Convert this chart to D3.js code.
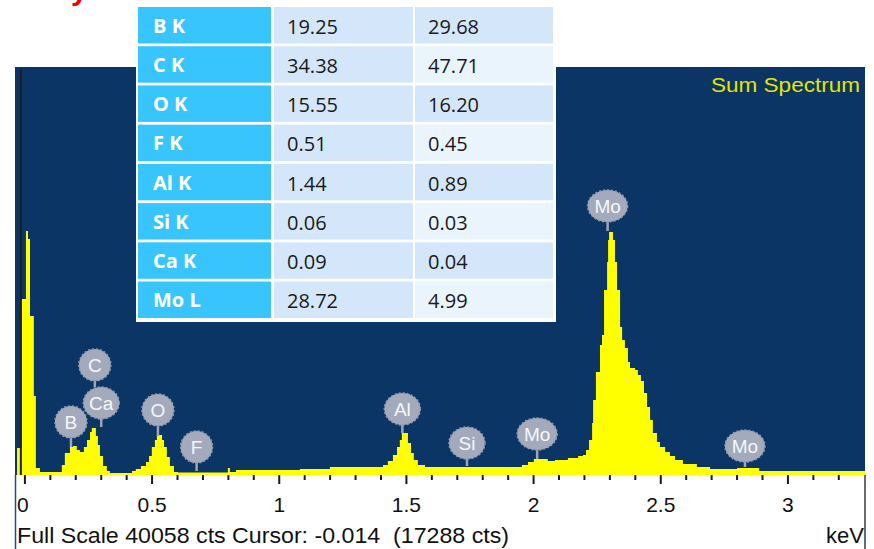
<!DOCTYPE html>
<html>
<head>
<meta charset="utf-8">
<script src="https://cdn.jsdelivr.net/npm/d3@7"></script>
<style>
  html, body { margin: 0; padding: 0; background: #ffffff; }
  svg { display: block; }
</style>
</head>
<body>
<script>
// ---- Quantification table ----
const elements = ["B K", "C K", "O K", "F K", "Al K", "Si K", "Ca K", "Mo L"];
const weightPct = ["19.25", "34.38", "15.55", "0.51", "1.44", "0.06", "0.09", "28.72"];
const atomicPct = ["29.68", "47.71", "16.20", "0.45", "0.89", "0.03", "0.04", "4.99"];

// ---- Spectrum (step counts per energy bin) ----
const energyKeV = [-0.037, -0.029, -0.012, 0.006, 0.014, 0.022, 0.037, 0.045, 0.061,
  0.147, 0.159, 0.179, 0.191, 0.206, 0.218, 0.234, 0.246, 0.258, 0.265, 0.281, 0.289,
  0.297, 0.309, 0.324, 0.336, 0.423, 0.438, 0.458, 0.478, 0.490, 0.501, 0.513, 0.521,
  0.541, 0.549, 0.560, 0.572, 0.588, 0.604, 0.800, 0.808, 0.832, 1.083, 1.201, 1.410,
  1.429, 1.449, 1.465, 1.476, 1.484, 1.508, 1.520, 1.531, 1.547, 1.575, 1.956, 1.980,
  2.003, 2.058, 2.086, 2.137, 2.177, 2.196, 2.208, 2.220, 2.232, 2.236, 2.247, 2.263,
  2.271, 2.279, 2.291, 2.295, 2.299, 2.314, 2.322, 2.330, 2.342, 2.350, 2.361, 2.373,
  2.381, 2.401, 2.412, 2.424, 2.436, 2.448, 2.460, 2.471, 2.487, 2.499, 2.519, 2.538,
  2.558, 2.589, 2.644, 2.696, 2.802, 2.889, 3.305];
const counts = [0, 2651, 17288, 23961, 23175, 15614, 7758, 687, 295,
  982, 2160, 2750, 2848, 2455, 2259, 2750, 3437, 4223, 4615, 3830, 2946,
  1866, 884, 393, 196, 393, 589, 884, 1277, 1866, 2750, 3437, 3928,
  3437, 2750, 1768, 884, 295, 246, 687, 295, 491, 589, 786, 982,
  1375, 1964, 2750, 3437, 4124, 3142, 2160, 1473, 982, 786, 982, 1277,
  1571, 1375, 1473, 1669, 1866, 1964, 2455, 3437, 5106, 7365, 10115, 12766,
  13748, 18167, 20917, 23077, 23863, 23077, 20917, 18167, 14534, 13257, 12471, 11097,
  10507, 10311, 9820, 9231, 8052, 6678, 5401, 4124, 3241, 2750, 2259, 1866,
  1473, 1080, 786, 589, 687, 393, 393];

// ---- Peak markers ----
const peakLabels = ["B", "C", "Ca", "O", "F", "Al", "Si", "Mo", "Mo", "Mo"];
const peakEnergy = [0.183, 0.277, 0.302, 0.525, 0.677, 1.486, 1.740, 2.016, 2.293, 2.833];
const markerCounts = [5205, 10802, 7070, 6383, 2750, 6481, 3142, 4026, 26416, 2848];
const stemEndCounts = [2750, 8642, 4714, 3830, 393, 4124, 884, 1571, 23961, 786];

// ---- Axis ----
const majorTicks = [0, 0.5, 1, 1.5, 2, 2.5, 3];
const fullScale = 40058;
const cursorKeV = -0.014;
const cursorCounts = 17288;

const W = 874, H = 549;
const panel = { left: 15, right: 865, top: 67, bottom: 475 };

const svg = d3.select("body").append("svg").attr("width", W).attr("height", H);

const x = d3.scaleLinear().domain([-0.037, 3.305]).range([panel.left, panel.right]);
const y = d3.scaleLinear().domain([0, fullScale]).range([panel.bottom, panel.top]);

// heading descender peeking in at the top edge
svg.append("text")
  .attr("x", 71).attr("y", 0)
  .attr("font-family", "Liberation Sans, Arial, sans-serif")
  .attr("font-size", 30).attr("font-weight", "bold")
  .attr("fill", "#ff0000")
  .text("y");

// frame lines down the sides of the axis area
svg.append("line").attr("x1", panel.left + 0.5).attr("x2", panel.left + 0.5)
  .attr("y1", panel.bottom).attr("y2", H).attr("stroke", "#1f4f86").attr("stroke-width", 1.5);
svg.append("line").attr("x1", panel.right).attr("x2", panel.right)
  .attr("y1", panel.bottom).attr("y2", H).attr("stroke", "#333a48").attr("stroke-width", 1.5);

// spectrum panel
svg.append("rect")
  .attr("x", panel.left).attr("y", panel.top)
  .attr("width", panel.right - panel.left).attr("height", panel.bottom - panel.top)
  .attr("fill", "#0b3564");

const spectrum = energyKeV.map((e, i) => ({ e, c: counts[i] }));
const area = d3.area()
  .x(d => x(d.e))
  .y0(y(0))
  .y1(d => y(d.c))
  .curve(d3.curveStepAfter);

svg.append("path")
  .datum(spectrum)
  .attr("d", area)
  .attr("fill", "#ffff00");

// cursor
svg.append("line")
  .attr("x1", x(cursorKeV)).attr("x2", x(cursorKeV))
  .attr("y1", panel.top + 2).attr("y2", panel.bottom)
  .attr("stroke", "#1d1d22").attr("stroke-width", 2);

// "Sum Spectrum" caption
svg.append("text")
  .attr("x", 860).attr("y", 92)
  .attr("text-anchor", "end")
  .attr("font-family", "Liberation Sans, Arial, sans-serif")
  .attr("font-size", 20)
  .attr("textLength", 149).attr("lengthAdjust", "spacingAndGlyphs")
  .attr("fill", "#e2e600")
  .text("Sum Spectrum");

// peak markers
const markers = svg.append("g").attr("class", "markers");
peakLabels.forEach((lab, i) => {
  const cx = x(peakEnergy[i]);
  const cy = y(markerCounts[i]);
  const ry = 16;
  const rx = lab.length > 1 ? (lab === "Mo" ? 20 : 18) : 16;
  const g = markers.append("g");
  g.append("line")
    .attr("x1", cx).attr("x2", cx)
    .attr("y1", cy + ry - 1).attr("y2", y(stemEndCounts[i]))
    .attr("stroke", "#9ea6b8").attr("stroke-width", 2.5);
  g.append("ellipse")
    .attr("cx", cx).attr("cy", cy).attr("rx", rx).attr("ry", ry)
    .attr("fill", "#a2aabb")
    .attr("stroke", "#8f98ad").attr("stroke-width", 1.5)
    .attr("stroke-dasharray", "2,2");
  g.append("text")
    .attr("x", cx).attr("y", cy + 7)
    .attr("text-anchor", "middle")
    .attr("font-family", "Liberation Sans, Arial, sans-serif")
    .attr("font-size", 19)
    .attr("fill", "#f6f7fb")
    .text(lab);
});

// energy axis: minor ticks every 0.1 keV, labelled major ticks every 0.5 keV
const minorTicks = d3.range(0, 33).map(i => i / 10).filter(v => Math.abs(v * 2 - Math.round(v * 2)) > 1e-6);
const axisMinor = d3.axisBottom(x).tickValues(minorTicks).tickSize(5).tickFormat("");
const axisMajor = d3.axisBottom(x).tickValues(majorTicks).tickSize(9).tickPadding(13)
  .tickFormat(d3.format("~g"));

const gMinor = svg.append("g").attr("transform", `translate(0,${panel.bottom})`).call(axisMinor);
const gMajor = svg.append("g").attr("transform", `translate(0,${panel.bottom})`).call(axisMajor);
[gMinor, gMajor].forEach(g => {
  g.select(".domain").remove();
  g.selectAll(".tick line").attr("stroke", "#1a1a1a").attr("stroke-width", 2);
});
gMajor.selectAll(".tick text")
  .attr("font-family", "Liberation Sans, Arial, sans-serif")
  .attr("font-size", 21)
  .attr("fill", "#111111");
gMajor.selectAll(".tick text").filter(d => d === 0).attr("dx", -2);

// status line
svg.append("text")
  .attr("x", 17).attr("y", 543)
  .attr("font-family", "Liberation Sans, Arial, sans-serif")
  .attr("font-size", 22)
  .attr("textLength", 492).attr("lengthAdjust", "spacingAndGlyphs")
  .attr("fill", "#111111")
  .attr("xml:space", "preserve")
  .style("white-space", "pre")
  .text(`Full Scale ${fullScale} cts Cursor: ${cursorKeV.toFixed(3)}  (${cursorCounts} cts)`);

svg.append("text")
  .attr("x", 864).attr("y", 543)
  .attr("text-anchor", "end")
  .attr("font-family", "Liberation Sans, Arial, sans-serif")
  .attr("font-size", 22)
  .attr("fill", "#111111")
  .text("keV");

// quantification table laid over the top of the panel
const rowBand = d3.scaleBand().domain(elements).range([7, 318]).paddingInner(0.07);
const colX = [138, 274, 415];
const colW = [133, 139, 138];

const table = svg.append("g").attr("class", "table");
table.append("rect")
  .attr("x", 136).attr("y", 0).attr("width", 420).attr("height", 322)
  .attr("fill", "#ffffff");

elements.forEach((el, i) => {
  const top = rowBand(el);
  const h = rowBand.bandwidth();
  const fills = ["#38c5fd", "#d4e7fa", i % 2 === 0 ? "#d4e7fa" : "#eaf4fd"];
  const texts = [el, weightPct[i], atomicPct[i]];
  fills.forEach((f, j) => {
    table.append("rect")
      .attr("x", colX[j]).attr("y", top)
      .attr("width", colW[j]).attr("height", h)
      .attr("fill", f);
    table.append("text")
      .attr("x", colX[j] + (j === 0 ? 15 : 13))
      .attr("y", top + h / 2 + (j === 0 ? 7.5 : 8.5))
      .attr("font-family", "Open Sans, Lato, sans-serif")
      .attr("font-size", j === 0 ? 20 : 20)
      .attr("font-weight", j === 0 ? "bold" : "normal")
      .attr("fill", j === 0 ? "#ffffff" : "#1a1a1a")
      .text(texts[j]);
  });
});
</script>
</body>
</html>
